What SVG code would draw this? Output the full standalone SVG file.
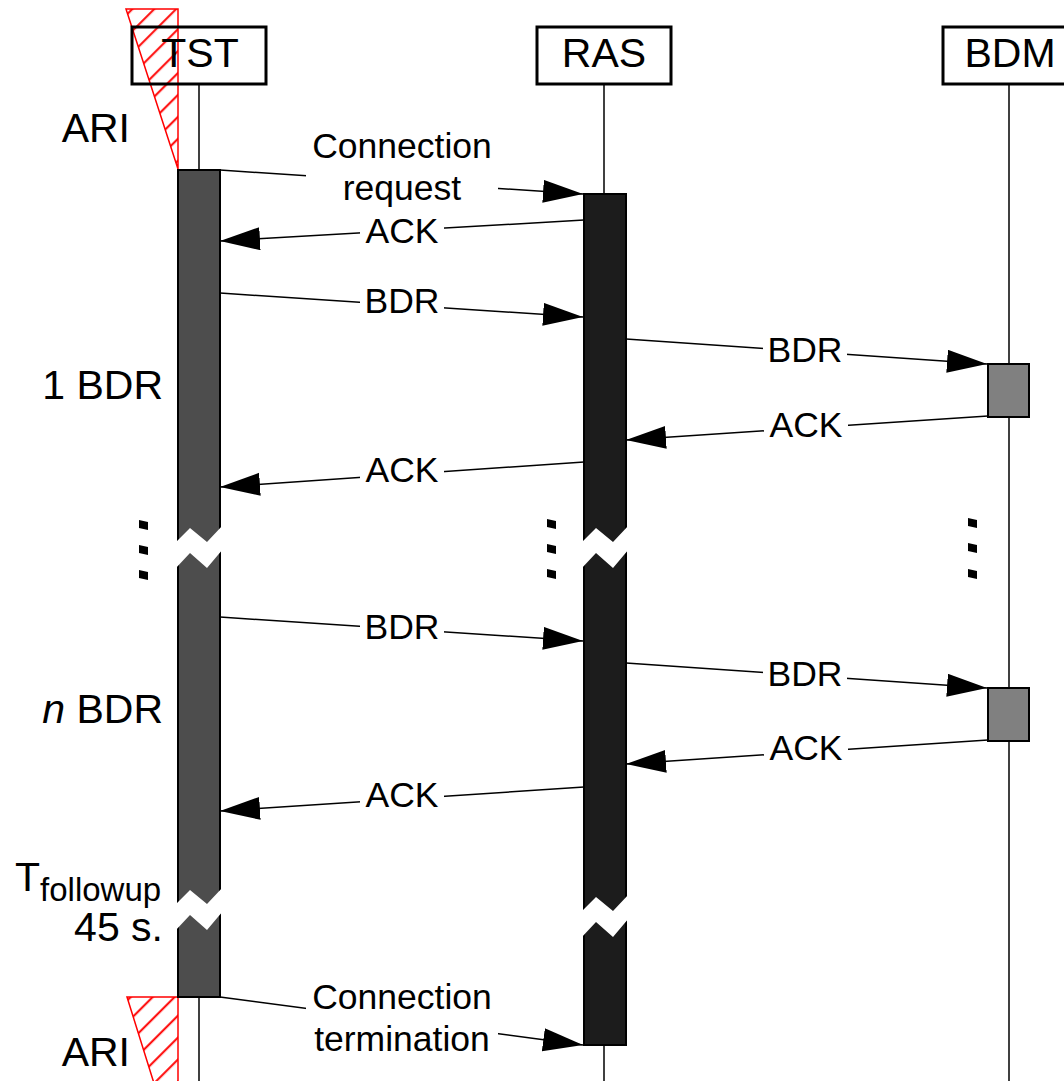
<svg xmlns="http://www.w3.org/2000/svg" width="1064" height="1081" viewBox="0 0 1064 1081">
<style>
  .lbl{font-family:"Liberation Sans",Arial,sans-serif;font-size:41px;fill:#000}
  .msg{font-family:"Liberation Sans",Arial,sans-serif;font-size:35.5px;fill:#000;text-anchor:middle}
  .head{fill:none;stroke:#000;stroke-width:3}
  .life{stroke:#000;stroke-width:1.5;fill:none}
  .conn{stroke:#000;stroke-width:1.5;fill:none;marker-end:url(#ah)}
  .bg{fill:#fff}
  .ari{fill:url(#hatch);stroke:#ff0000;stroke-width:1.5}
  .dot{fill:#000}
</style>
<defs>
  <marker id="ah" markerUnits="userSpaceOnUse" markerWidth="42" markerHeight="24" refX="40" refY="11.5" orient="auto">
    <path d="M0,0 L40,11.5 L0,23 Z" fill="#000"/>
  </marker>
  <pattern id="hatch" patternUnits="userSpaceOnUse" width="15.5" height="15.5" patternTransform="rotate(45)">
    <line x1="7" y1="0" x2="7" y2="15.5" stroke="#ff0000" stroke-width="2"/>
  </pattern>
  <path id="brk" d="M-3,0 L12,-15 L29,-1 L45,-18 L45,6 L29,25 L12,10 L-3,26 Z" fill="#fff"/>
</defs>
<rect width="1064" height="1081" fill="#fff"/>

<g id="ari-top">
  <polygon class="ari" points="126,9 178,9 178,169"/>
</g>
<g id="ari-bottom">
  <polygon class="ari" points="127,997 178,997 178,1160"/>
</g>

<g id="lifeline-TST">
  <line class="life" x1="199" y1="85" x2="199" y2="1081"/>
  <rect class="head" x="132" y="27" width="134" height="57"/>
  <text class="lbl" x="200" y="67" text-anchor="middle">TST</text>
  <rect x="178" y="170" width="42" height="827" fill="#4d4d4d" stroke="#000" stroke-width="2"/>
</g>
<g id="lifeline-RAS">
  <line class="life" x1="604" y1="85" x2="604" y2="1081"/>
  <rect class="head" x="537" y="27" width="134" height="57"/>
  <text class="lbl" x="604" y="67" text-anchor="middle">RAS</text>
  <rect x="584" y="194" width="42" height="851" fill="#1c1c1c" stroke="#000" stroke-width="2"/>
</g>
<g id="lifeline-BDM">
  <line class="life" x1="1009" y1="85" x2="1009" y2="1081"/>
  <rect class="head" x="943" y="27" width="134" height="57"/>
  <text class="lbl" x="1010" y="67" text-anchor="middle">BDM</text>
  <rect x="988" y="364" width="41" height="53" fill="#808080" stroke="#000" stroke-width="2"/>
  <rect x="988" y="688" width="41" height="53" fill="#808080" stroke="#000" stroke-width="2"/>
</g>

<g id="breaks">
  <use href="#brk" x="178" y="543"/>
  <use href="#brk" x="178" y="905"/>
  <use href="#brk" x="584" y="543"/>
  <use href="#brk" x="584" y="912"/>
  <polygon class="dot" points="139,520 148,522 148,530 139,528"/>
  <polygon class="dot" points="139,545 148,547 148,555 139,553"/>
  <polygon class="dot" points="139,570 148,572 148,580 139,578"/>
  <polygon class="dot" points="547,519 556,521 556,529 547,527"/>
  <polygon class="dot" points="547,544 556,546 556,554 547,552"/>
  <polygon class="dot" points="547,569 556,571 556,579 547,577"/>
  <polygon class="dot" points="968,518 977,520 977,528 968,526"/>
  <polygon class="dot" points="968,543 977,545 977,553 968,551"/>
  <polygon class="dot" points="968,569 977,571 977,579 968,577"/>
</g>

<g id="connectors">
  <line class="conn" x1="220" y1="170" x2="583" y2="194"/>
  <line class="conn" x1="584" y1="220" x2="220" y2="241"/>
  <line class="conn" x1="220" y1="293" x2="583" y2="317"/>
  <line class="conn" x1="626" y1="339" x2="987" y2="364"/>
  <line class="conn" x1="988" y1="416" x2="626" y2="440"/>
  <line class="conn" x1="584" y1="462" x2="220" y2="487"/>
  <line class="conn" x1="220" y1="617" x2="583" y2="641"/>
  <line class="conn" x1="626" y1="663" x2="987" y2="688"/>
  <line class="conn" x1="988" y1="740" x2="626" y2="764"/>
  <line class="conn" x1="584" y1="787" x2="220" y2="811"/>
  <line class="conn" x1="220" y1="997" x2="583" y2="1045"/>
</g>

<g id="message-labels">
  <rect class="bg" x="306" y="128" width="192" height="80"/>
  <text class="msg" x="402" y="158">Connection</text>
  <text class="msg" x="402" y="200">request</text>
  <rect class="bg" x="360" y="213" width="84" height="34"/>
  <text class="msg" x="402" y="243">ACK</text>
  <rect class="bg" x="360" y="283" width="84" height="34"/>
  <text class="msg" x="402" y="313">BDR</text>
  <rect class="bg" x="763" y="332" width="84" height="34"/>
  <text class="msg" x="805" y="362">BDR</text>
  <rect class="bg" x="764" y="407" width="84" height="34"/>
  <text class="msg" x="806" y="437">ACK</text>
  <rect class="bg" x="360" y="452" width="84" height="34"/>
  <text class="msg" x="402" y="482">ACK</text>
  <rect class="bg" x="360" y="609" width="84" height="34"/>
  <text class="msg" x="402" y="639">BDR</text>
  <rect class="bg" x="763" y="656" width="84" height="34"/>
  <text class="msg" x="805" y="686">BDR</text>
  <rect class="bg" x="764" y="730" width="84" height="34"/>
  <text class="msg" x="806" y="760">ACK</text>
  <rect class="bg" x="360" y="777" width="84" height="34"/>
  <text class="msg" x="402" y="807">ACK</text>
  <rect class="bg" x="306" y="978" width="192" height="82"/>
  <text class="msg" x="402" y="1009">Connection</text>
  <text class="msg" x="402" y="1051">termination</text>
</g>

<g id="side-labels">
  <text class="lbl" x="130" y="142" text-anchor="end">ARI</text>
  <text class="lbl" x="163" y="399" text-anchor="end">1 BDR</text>
  <text class="lbl" x="163" y="723" text-anchor="end"><tspan font-style="italic">n</tspan> BDR</text>
  <text class="lbl" x="15" y="891">T<tspan font-size="33" dy="10">followup</tspan></text>
  <text class="lbl" x="163" y="941" text-anchor="end">45 s.</text>
  <text class="lbl" x="130" y="1066" text-anchor="end">ARI</text>
</g>
</svg>
